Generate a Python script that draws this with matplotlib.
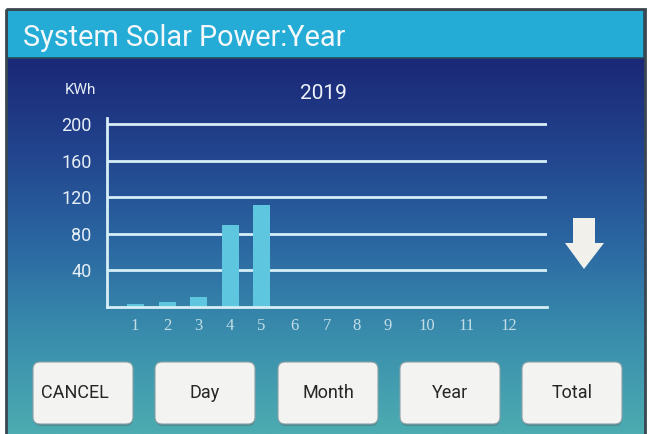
import numpy as np
import matplotlib.pyplot as plt
from matplotlib.patches import Rectangle, FancyBboxPatch, Polygon
from matplotlib.colors import LinearSegmentedColormap

# data
months = ["1", "2", "3", "4", "5", "6", "7", "8", "9", "10", "11", "12"]
energy = [3, 5, 11, 90, 112, 0, 0, 0, 0, 0, 0, 0]
y_ticks = [40, 80, 120, 160, 200]
buttons = ["CANCEL", "Day", "Month", "Year", "Total"]
title = "System Solar Power:Year"
year = "2019"
unit = "KWh"

# layout: month centres in axis units (px from the y axis)
x_pos = [28, 60, 91, 123, 154, 187, 220, 250, 281, 320, 360, 402]

font = ["Roboto", "DejaVu Sans"]

fig = plt.figure(figsize=(6.51, 4.34), dpi=100)
bg = fig.add_axes([0, 0, 1, 1])
bg.set_xlim(0, 651)
bg.set_ylim(434, 0)
bg.axis("off")

# screen background gradient
cmap = LinearSegmentedColormap.from_list(
    "scr", ["#1b2876", "#22448e", "#2b68a2", "#3a8fad", "#4cacb1"])
grad = np.linspace(0, 1, 256).reshape(-1, 1)
bg.imshow(grad, cmap=cmap, extent=[7, 645, 434, 58], aspect="auto", zorder=0)

# frame and title bar
bg.add_patch(Rectangle((6, 9), 639, 440, fill=False, ec="#3a4650", lw=2, zorder=3))
bg.add_patch(Rectangle((7, 10), 637, 48, fc="#24acd6", ec="#2a4a5a", lw=1.2, zorder=2))
t = bg.text(23, 46, title, color="#f4f8fb", fontsize=21, family=font, va="baseline", zorder=4)
# squeeze the title to its width on the screen
fig.canvas.draw()
w = t.get_window_extent().width
if w > 322:
    t.set_fontsize(21 * 322 / w)

# down arrow
bg.add_patch(Polygon([(573, 218), (595, 218), (595, 243), (604, 243), (584, 269),
                      (565, 243), (573, 243)], closed=True, fc="#f1f0ea", ec="none", zorder=2))

# buttons
bx = [33, 155, 278, 400, 522]
for i, lab in enumerate(buttons):
    bg.add_patch(FancyBboxPatch((bx[i] + 1, 364), 99, 62, boxstyle="round,pad=0,rounding_size=7",
                                fc="#4a6a70", ec="none", alpha=0.5, zorder=2))
    bg.add_patch(FancyBboxPatch((bx[i], 362), 100, 62, boxstyle="round,pad=0,rounding_size=7",
                                fc="#f3f3f1", ec="#8aa0a6", lw=0.8, zorder=3))
    tx = bx[i] + 42 if lab == "CANCEL" else bx[i] + 50
    bg.text(tx, 398, lab, color="#262626", fontsize=13, family=font,
            ha="center", va="baseline", zorder=4)

# chart
ax = fig.add_axes([107 / 651, (434 - 307) / 434, 440 / 651, 189 / 434])
ax.patch.set_alpha(0)
ax.set_xlim(0, 440)
ax.set_ylim(0, 207)
ax.bar(x_pos, energy, width=17, color="#5ec6de", zorder=2)
line_c = "#d6eef6"
for v in y_ticks:
    ax.axhline(v, color=line_c, lw=2, zorder=1)
for s in ["top", "right"]:
    ax.spines[s].set_visible(False)
ax.spines["left"].set_color(line_c)
ax.spines["bottom"].set_color(line_c)
ax.spines["left"].set_linewidth(2)
ax.spines["bottom"].set_linewidth(2)
ax.set_yticks(y_ticks)
ax.set_yticklabels([str(v) for v in y_ticks], color="#e6eef6", fontsize=13, family=font)
ax.set_xticks(x_pos)
ax.set_xticklabels(months, color="#c4dee8", fontsize=12, family="Liberation Serif")
ax.tick_params(axis="y", length=0, pad=11)
ax.tick_params(axis="x", length=0, pad=8)

bg.text(65, 94, unit, color="#e6eef6", fontsize=11, family=font, va="baseline")
bg.text(323, 99, year, color="#eef3f8", fontsize=15, family=font, ha="center", va="baseline")

fig.savefig("out.png", dpi=100)
